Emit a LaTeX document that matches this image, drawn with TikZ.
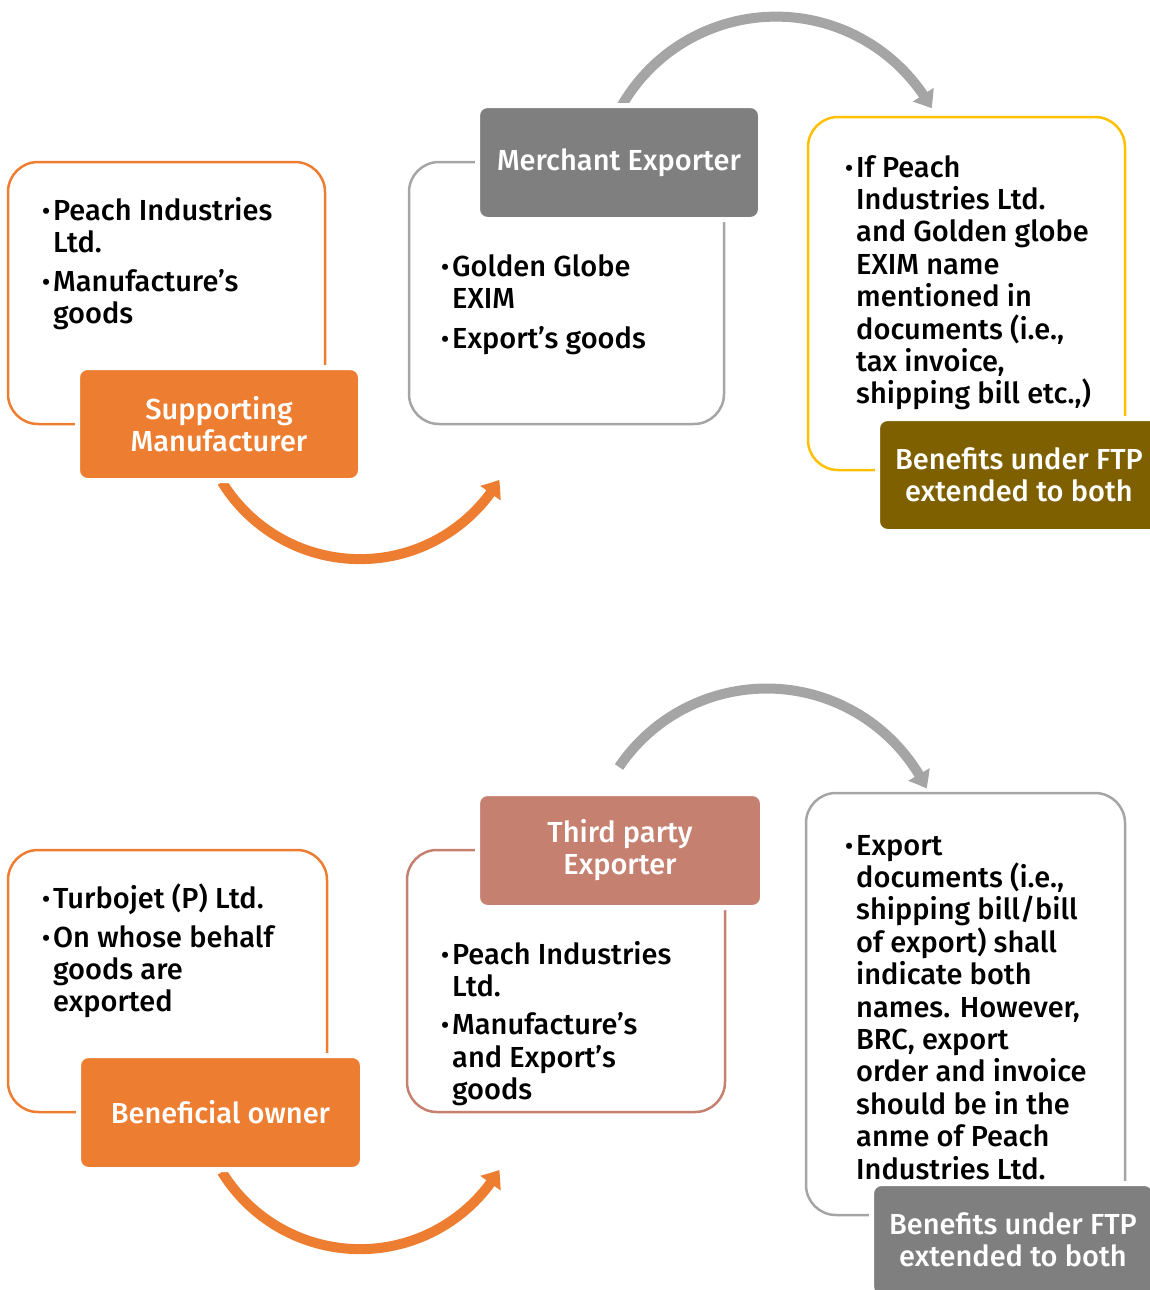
\documentclass[tikz,border=0pt]{standalone}
\usepackage{fontspec}
\setmainfont{Fira Sans}
\newfontfamily\bodyfont{Fira Sans Medium}
\usetikzlibrary{arrows.meta,bending}

\definecolor{accOrange}{HTML}{ED7D31}
\definecolor{accGray}{HTML}{A5A5A5}
\definecolor{lblGray}{HTML}{7F7F7F}
\definecolor{accGold}{HTML}{FFC000}
\definecolor{lblBrown}{HTML}{7F6000}
\definecolor{accRose}{HTML}{C5806F}

\newcommand\bl{\makebox[11pt][l]{\raisebox{1pt}{\fontsize{24}{24}\selectfont\textbullet}}}
\newcommand\ind{\hspace*{11pt}}

\tikzset{
  card/.style={draw=#1, line width=2.5pt, rounded corners=30pt, anchor=north west,
    inner sep=0pt, outer sep=0pt},
  % filled label with a white rim that cuts the card outline
  tag/.style={fill=#1, draw=white, line width=5pt, rounded corners=10pt, anchor=north west,
    inner sep=0pt, outer sep=0pt, text=white, align=center,
    font=\bodyfont\fontsize{29}{32}\selectfont},
  % anchored at the baseline of the last line
  body/.style={anchor=base west, inner sep=0pt, align=left,
    font=\bodyfont\fontsize{29}{32.4}\selectfont},
  flow/.style={draw=#1, line width=10pt, -{Triangle[length=16pt,width=24pt,bend]}}
}

\begin{document}
\begin{tikzpicture}[x=1pt,y=1pt]
\useasboundingbox (0,0) rectangle (1150,-1290);
\clip (0,0) rectangle (1150,-1290);

% ---------- upper process ----------
\node[card=accOrange, minimum width=317pt, minimum height=262pt] (c1) at (8,-162) {};
\node[card=accGray,   minimum width=315pt, minimum height=262pt] (c2) at (409,-162) {};
\node[card=accGold,   minimum width=317pt, minimum height=353pt] (c3) at (808,-117) {};

\coordinate (a1s) at (222,-482);
\draw[flow=accOrange] (a1s) arc[start angle=211.6, end angle=329.3, radius=162];
\coordinate (a2s) at (621,-107);
\draw[flow=accGray] (a2s) arc[start angle=150.5, end angle=29, radius=178];

\node[tag=accOrange, minimum width=283pt, minimum height=113pt] (l1) at (77.5,-367.5)
  {Supporting\\Manufacturer};
\node[tag=lblGray, minimum width=283pt, minimum height=114pt] (l2) at (477.5,-105.5)
  {Merchant Exporter};
\node[tag=lblBrown, minimum width=283pt, minimum height=113pt] (l3) at (877.5,-418.5)
  {Benefits under FTP\\extended to both};

\node[body] (t1) at (42,-323.8)
  {\bl Peach Industries\\\ind Ltd.\\[6.6pt]\bl Manufacture’s\\\ind goods};
\node[body] (t2) at (441,-348.3)
  {\bl Golden Globe\\\ind EXIM\\[7.5pt]\bl Export’s goods};
\node[body] (t3) at (845,-403.8)
  {\bl If Peach\\\ind Industries Ltd.\\\ind and Golden globe\\\ind EXIM name\\
   \ind mentioned in\\\ind documents (i.e.,\\\ind tax invoice,\\\ind shipping bill etc.,)};

% ---------- lower process ----------
\node[card=accOrange, minimum width=319pt, minimum height=262pt] (c4) at (8,-850) {};
\node[card=accRose,   minimum width=318pt, minimum height=262pt] (c5) at (407,-850) {};
\node[card=accGray,   minimum width=319pt, minimum height=422pt] (c6) at (806,-793) {};

\coordinate (a3s) at (222,-1172);
\draw[flow=accOrange] (a3s) arc[start angle=211.6, end angle=329.3, radius=162];
\coordinate (a4s) at (619,-767);
\draw[flow=accGray] (a4s) arc[start angle=146, end angle=26, radius=178];

\node[tag=accOrange, minimum width=284pt, minimum height=114pt] (l4) at (78.5,-1055.5)
  {Beneficial owner};
\node[tag=accRose, minimum width=285pt, minimum height=114pt] (l5) at (477.5,-793.5)
  {Third party\\Exporter};
\node[tag=lblGray, minimum width=283pt, minimum height=113pt] (l6) at (871.5,-1183.5)
  {Benefits under FTP\\extended to both};

\node[body] (t4) at (42,-1011.8)
  {\bl Turbojet (P) Ltd.\\[6.6pt]\bl On whose behalf\\\ind goods are\\\ind exported};
\node[body] (t5) at (441,-1099.6)
  {\bl Peach Industries\\\ind Ltd.\\[6pt]\bl Manufacture’s\\\ind and Export’s\\\ind goods};
\node[body] (t6) at (845,-1179)
  {\bl Export\\\ind documents (i.e.,\\\ind shipping bill/bill\\\ind of export) shall\\
   \ind indicate both\\\ind names. However,\\\ind BRC, export\\\ind order and invoice\\
   \ind should be in the\\\ind anme of Peach\\\ind Industries Ltd.};
\end{tikzpicture}
\end{document}
